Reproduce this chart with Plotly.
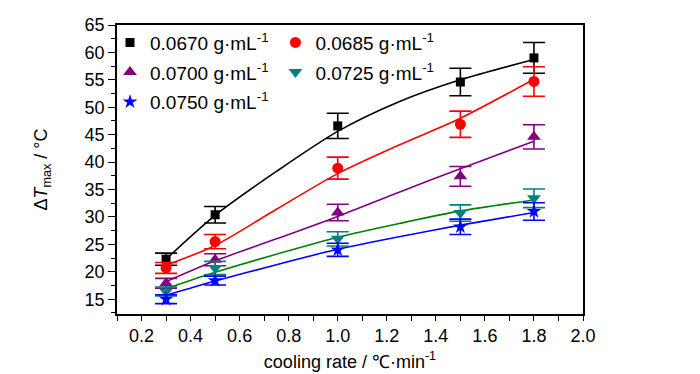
import plotly.graph_objects as go

rate = [0.3, 0.5, 1.0, 1.5, 1.8]
fit_rate = [0.3, 0.5, 0.75, 1.0, 1.25, 1.5, 1.8]
labels = ["0.0670 g·mL<sup>-1</sup>", "0.0685 g·mL<sup>-1</sup>", "0.0700 g·mL<sup>-1</sup>",
          "0.0725 g·mL<sup>-1</sup>", "0.0750 g·mL<sup>-1</sup>"]

dT_0670 = [22.3, 30.4, 46.6, 54.6, 59.0]
dT_0685 = [20.7, 25.5, 38.9, 46.9, 54.7]
dT_0700 = [17.9, 22.2, 30.8, 37.4, 44.6]
dT_0725 = [16.4, 20.7, 26.0, 30.7, 33.4]
dT_0750 = [15.0, 18.4, 24.0, 28.2, 31.0]

err_0670 = [1.1, 1.5, 2.3, 2.5, 2.8]
err_0685 = [1.0, 1.3, 2.0, 2.4, 2.7]
err_0700 = [0.9, 1.1, 1.5, 1.8, 2.2]
err_0725 = [0.8, 1.2, 1.3, 1.5, 1.7]
err_0750 = [0.8, 0.8, 1.2, 1.4, 1.6]

fit_0670 = [22.3, 30.3, 38.3, 45.6, 51.0, 55.0, 58.7]
fit_0685 = [21.2, 24.8, 31.4, 37.9, 43.1, 48.0, 55.1]
fit_0700 = [18.2, 22.0, 26.0, 30.1, 34.5, 38.8, 43.8]
fit_0725 = [16.9, 19.9, 23.2, 26.3, 28.8, 31.1, 33.1]
fit_0750 = [15.7, 18.3, 21.3, 24.1, 26.4, 28.5, 30.8]

colors = ["#000000", "#ff0000", "#800080", "#008080", "#0000ff"]
line_colors = ["#000000", "#ff0000", "#800080", "#008000", "#0000ff"]
symbols = ["square", "circle", "triangle-up", "triangle-down", "star"]
sizes = [9, 11, 12, 12, 11]
legends = ["legend", "legend2", "legend", "legend2", "legend"]

data = [dT_0670, dT_0685, dT_0700, dT_0725, dT_0750]
errs = [err_0670, err_0685, err_0700, err_0725, err_0750]
fits = [fit_0670, fit_0685, fit_0700, fit_0725, fit_0750]

font = "Liberation Sans Narrow, Arial Narrow, Liberation Sans, Arial, sans-serif"

fig = go.Figure()
for i in range(5):
    fig.add_trace(go.Scatter(
        x=fit_rate, y=fits[i], mode="lines",
        line=dict(color=line_colors[i], width=1.6, shape="spline", smoothing=0.8),
        showlegend=False, hoverinfo="skip"))
for i in range(5):
    fig.add_trace(go.Scatter(
        x=rate, y=data[i], mode="markers", name=labels[i], legend=legends[i],
        legendgroup="g%d" % i,
        marker=dict(symbol=symbols[i], color=colors[i], size=sizes[i], line=dict(width=0)),
        error_y=dict(type="data", array=errs[i], color=colors[i], thickness=1.6, width=11)))

axis_common = dict(showline=True, linecolor="black", linewidth=1.5, mirror=True,
                   showgrid=False, zeroline=False, ticks="outside", tickcolor="black",
                   ticklabeloverflow="allow",
                   tickfont=dict(family=font, size=18, color="black"))

fig.update_xaxes(range=[0.1, 2.0], tickvals=[0.2, 0.4, 0.6, 0.8, 1.0, 1.2, 1.4, 1.6, 1.8, 2.0],
                 ticktext=["0.2", "0.4", "0.6", "0.8", "1.0", "1.2", "1.4", "1.6", "1.8", "2.0"],
                 ticklen=5, tickwidth=1.3,
                 minor=dict(dtick=0.1, tick0=0.1, ticks="outside", ticklen=5, tickwidth=1.3, tickcolor="black"),
                 title=dict(text="cooling rate / ℃·min<sup>-1</sup>", font=dict(family=font, size=18, color="black"), standoff=10),
                 **axis_common)
fig.update_yaxes(range=[12.3, 65], tickvals=[15, 20, 25, 30, 35, 40, 45, 50, 55, 60, 65],
                 ticklen=7, tickwidth=1.3,
                 minor=dict(dtick=2.5, tick0=0, ticks="outside", ticklen=4, tickwidth=1.3, tickcolor="black"),
                 title=dict(text="Δ<i>T</i><sub>max</sub> / °C", font=dict(family=font, size=18, color="black"), standoff=32),
                 **axis_common)

legend_common = dict(bgcolor="rgba(0,0,0,0)", font=dict(family=font, size=19, color="black"),
                     xanchor="left", yanchor="top", tracegroupgap=2, itemwidth=30)
fig.update_layout(
    width=700, height=374,
    margin=dict(l=109, r=125, t=7, b=68),
    plot_bgcolor="white", paper_bgcolor="white",
    legend=dict(x=-0.015, y=1.005, **legend_common),
    legend2=dict(x=0.34, y=1.005, **legend_common),
)
fig.write_html("out.html")
